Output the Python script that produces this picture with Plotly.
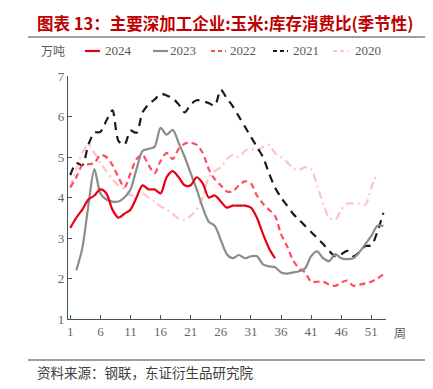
import plotly.graph_objects as go

weeks_2024 = list(range(1, 36))
vals_2024 = [3.25, 3.5, 3.7, 3.95, 4.05, 4.2, 4.1, 3.7, 3.5, 3.6, 3.7, 4.0, 4.3, 4.2, 4.2, 4.1,
             4.5, 4.65, 4.5, 4.3, 4.3, 4.5, 4.35, 4.0, 4.05, 3.9, 3.75, 3.8, 3.8, 3.8, 3.75,
             3.5, 3.1, 2.75, 2.5]

weeks_2023 = list(range(2, 54))
vals_2023 = [2.2, 2.75, 3.8, 4.7, 4.1, 3.95, 3.9, 3.9, 4.0, 4.2, 4.7, 5.15, 5.2, 5.25, 5.72,
             5.55, 5.67, 5.35, 5.0, 4.6, 4.2, 3.75, 3.4, 3.3, 2.95, 2.6, 2.5, 2.58, 2.5, 2.55,
             2.55, 2.35, 2.3, 2.28, 2.15, 2.12, 2.15, 2.18, 2.25, 2.55, 2.67, 2.5, 2.43, 2.6,
             2.5, 2.48, 2.5, 2.65, 2.85, 3.05, 3.3, 3.3]

weeks_2022 = list(range(1, 54))
vals_2022 = [4.25, 4.5, 4.8, 4.82, 4.85, 5.05, 5.0, 4.8, 4.5, 4.25, 4.6, 4.95, 5.05, 4.8, 4.6,
             4.9, 5.1, 4.95, 5.2, 5.33, 5.35, 5.3, 5.1, 4.7, 4.45, 4.3, 4.15, 4.15, 4.3, 4.4,
             4.35, 4.05, 3.85, 3.7, 3.55, 3.1, 2.8, 2.45, 2.25, 2.15, 1.92, 1.92, 1.92, 1.85,
             1.82, 1.9, 1.95, 1.82, 1.85, 1.88, 1.92, 2.0, 2.1]

weeks_2021 = list(range(1, 54))
vals_2021 = [4.55, 4.85, 4.8, 5.3, 5.6, 5.62, 5.9, 6.15, 5.4, 5.3, 5.65, 5.6, 6.1, 6.3, 6.42,
             6.56, 6.52, 6.45, 6.3, 6.1, 6.3, 6.4, 6.38, 6.33, 6.27, 6.66, 6.45, 6.25, 6.0,
             5.75, 5.5, 5.25, 5.0, 4.6, 4.25, 4.0, 3.8, 3.6, 3.45, 3.3, 3.15, 3.0, 2.85, 2.68,
             2.55, 2.6, 2.68, 2.55, 2.65, 2.8, 2.82, 3.15, 3.62]

weeks_2020 = list(range(1, 53))
vals_2020 = [4.25, 4.7, 5.1, 5.3, 5.1, 4.85, 4.65, 4.45, 4.3, 4.2, 4.05, 4.1, 4.1, 4.0, 3.9,
             3.78, 3.7, 3.6, 3.48, 3.45, 3.55, 3.7, 4.0, 4.5, 4.65, 4.75, 4.95, 5.05, 5.0,
             5.15, 5.2, 5.15, 5.25, 5.3, 5.1, 5.0, 4.88, 4.72, 4.68, 4.75, 4.7, 4.3, 3.85,
             3.5, 3.45, 3.7, 3.85, 3.85, 3.85, 3.82, 4.25, 4.6]

x_ticks = [1, 6, 11, 16, 21, 26, 31, 36, 41, 46, 51]
y_ticks = [1, 2, 3, 4, 5, 6, 7]

series = [
    ("2024", weeks_2024, vals_2024, "#E60012", "solid"),
    ("2023", weeks_2023, vals_2023, "#8C8C8C", "solid"),
    ("2022", weeks_2022, vals_2022, "#FF4D5E", "6px,4px"),
    ("2021", weeks_2021, vals_2021, "#1A1A1A", "8px,6px"),
    ("2020", weeks_2020, vals_2020, "#FFC2CA", "8px,4px,2px,4px"),
]

fig = go.Figure()
for name, xs, ys, color, dash in reversed(series):
    fig.add_trace(go.Scatter(
        x=xs, y=ys, name=name, mode="lines",
        line=dict(color=color, width=2.2, dash=dash, shape="spline", smoothing=0.8),
        showlegend=False,
    ))

serif = "Liberation Serif, Noto Sans CJK SC, serif"

fig.update_layout(
    width=433, height=389,
    margin=dict(l=60, r=55, t=68, b=78),
    paper_bgcolor="white", plot_bgcolor="white",
    font=dict(family=serif, size=13, color="#595959"),
    xaxis=dict(range=[0.62, 53.44], tickvals=x_ticks, ticks="inside", ticklen=4,
               tickcolor="#3F5555", showline=True, linecolor="#3F5555", linewidth=1.2,
               showgrid=False, zeroline=False, tickfont=dict(size=13, color="#666666")),
    yaxis=dict(range=[1, 7], tickvals=y_ticks, ticks="inside", ticklen=4,
               tickcolor="#3F5555", showline=True, linecolor="#3F5555", linewidth=1.2,
               showgrid=False, zeroline=False, tickfont=dict(size=13, color="#666666")),
)

# Title
fig.add_annotation(xref="paper", yref="paper", x=(27 - 60) / 318, y=(311 - 15) / 243,
                   xanchor="left", yanchor="middle", showarrow=False,
                   text="<b>图表 13：主要深加工企业:玉米:库存消费比(季节性)</b>",
                   font=dict(family="Noto Sans CJK SC", size=16.5, color="#C00000"))
# rules
fig.add_shape(type="line", xref="paper", yref="paper", x0=(20 - 60) / 318, x1=(433 - 60) / 318,
              y0=(311 - 29) / 243, y1=(311 - 29) / 243, line=dict(color="#404040", width=1))
fig.add_shape(type="line", xref="paper", yref="paper", x0=(20 - 60) / 318, x1=(433 - 60) / 318,
              y0=(311 - 352) / 243, y1=(311 - 352) / 243, line=dict(color="#404040", width=1))

# Legend (manual)
ly = (311 - 43) / 243
fig.add_annotation(xref="paper", yref="paper", x=(31 - 60) / 318, y=ly, xanchor="left",
                   yanchor="middle", showarrow=False, text="万吨",
                   font=dict(family="Noto Sans CJK SC", size=12, color="#595959"))
leg_pos = [(77, 95), (145, 160), (203, 220), (265, 283), (325, 345)]
for (name, xs, ys, color, dash), (lx, tx) in zip(series, leg_pos):
    fig.add_shape(type="line", xref="paper", yref="paper",
                  x0=(lx - 60) / 318, x1=(lx + 15 - 60) / 318, y0=ly, y1=ly,
                  line=dict(color=color, width=2.2, dash=dash if dash == "solid" else "4px,3px"))
    fig.add_annotation(xref="paper", yref="paper", x=(tx - 60) / 318, y=ly, xanchor="left",
                       yanchor="middle", showarrow=False, text=name,
                       font=dict(family=serif, size=13, color="#595959"))

# x-axis unit
fig.add_annotation(xref="paper", yref="paper", x=(384 - 60) / 318, y=(311 - 324) / 243,
                   xanchor="left", yanchor="middle", showarrow=False, text="周",
                   font=dict(family="Noto Sans CJK SC", size=12, color="#595959"))

# source
fig.add_annotation(xref="paper", yref="paper", x=(27 - 60) / 318, y=(311 - 364) / 243,
                   xanchor="left", yanchor="middle", showarrow=False,
                   text="资料来源：钢联，东证衍生品研究院",
                   font=dict(family="Noto Sans CJK SC", size=13.5, color="#404040"))

fig.write_html("out.html")
